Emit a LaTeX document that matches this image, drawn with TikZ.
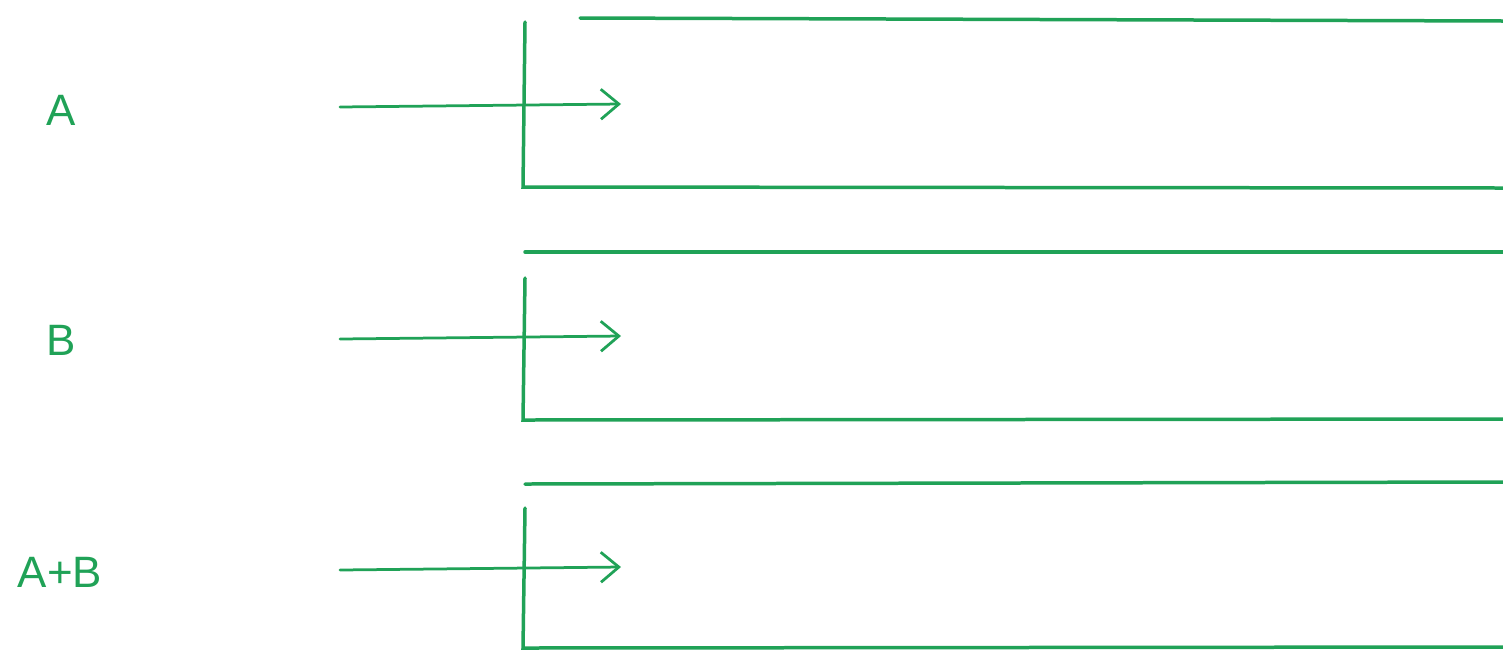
\documentclass[tikz,border=0pt]{standalone}
\usepackage{fontspec}
\setmainfont{Liberation Sans}
\usetikzlibrary{arrows.meta}
\definecolor{penGreen}{HTML}{20A257}

\begin{document}
\begin{tikzpicture}[x=0.02cm,y=-0.02cm]
      \tikzset{rowlabel/.style={text=penGreen,font=\fontsize{25}{28}\selectfont,inner sep=0pt}, pen/.style={draw=penGreen,line width=0.7mm,line cap=round}, feed/.style={pen,line width=0.55mm,-{Straight Barb[length=3.6mm,width=6mm,line width=0.55mm]}}}
      \useasboundingbox (0,0) rectangle (1503,650);
      % row A
      \node[rowlabel] (la) at (61,110) {A};
      \coordinate (ain) at (340,107);
      \coordinate (aout) at (621,104);
      \draw[feed] (ain) -- (aout);
      \draw[pen] (580,18) -- (1503,21);
      \draw[pen] (525,22) -- (523,187) -- (1503,188);
      % row B
      \node[rowlabel] (lb) at (61,340) {B};
      \coordinate (bin) at (340,339);
      \coordinate (bout) at (621,336);
      \draw[feed] (bin) -- (bout);
      \draw[pen] (525,252) -- (1503,252);
      \draw[pen] (525,278) -- (523,420) -- (1503,419);
      % row A+B
      \node[rowlabel] (lab) at (60,572) {A+B};
      \coordinate (abin) at (340,570);
      \coordinate (about) at (621,567);
      \draw[feed] (abin) -- (about);
      \draw[pen] (525,484) -- (1503,482);
      \draw[pen] (525,508) -- (523,648) -- (1503,647);
    \end{tikzpicture}
\end{document}
